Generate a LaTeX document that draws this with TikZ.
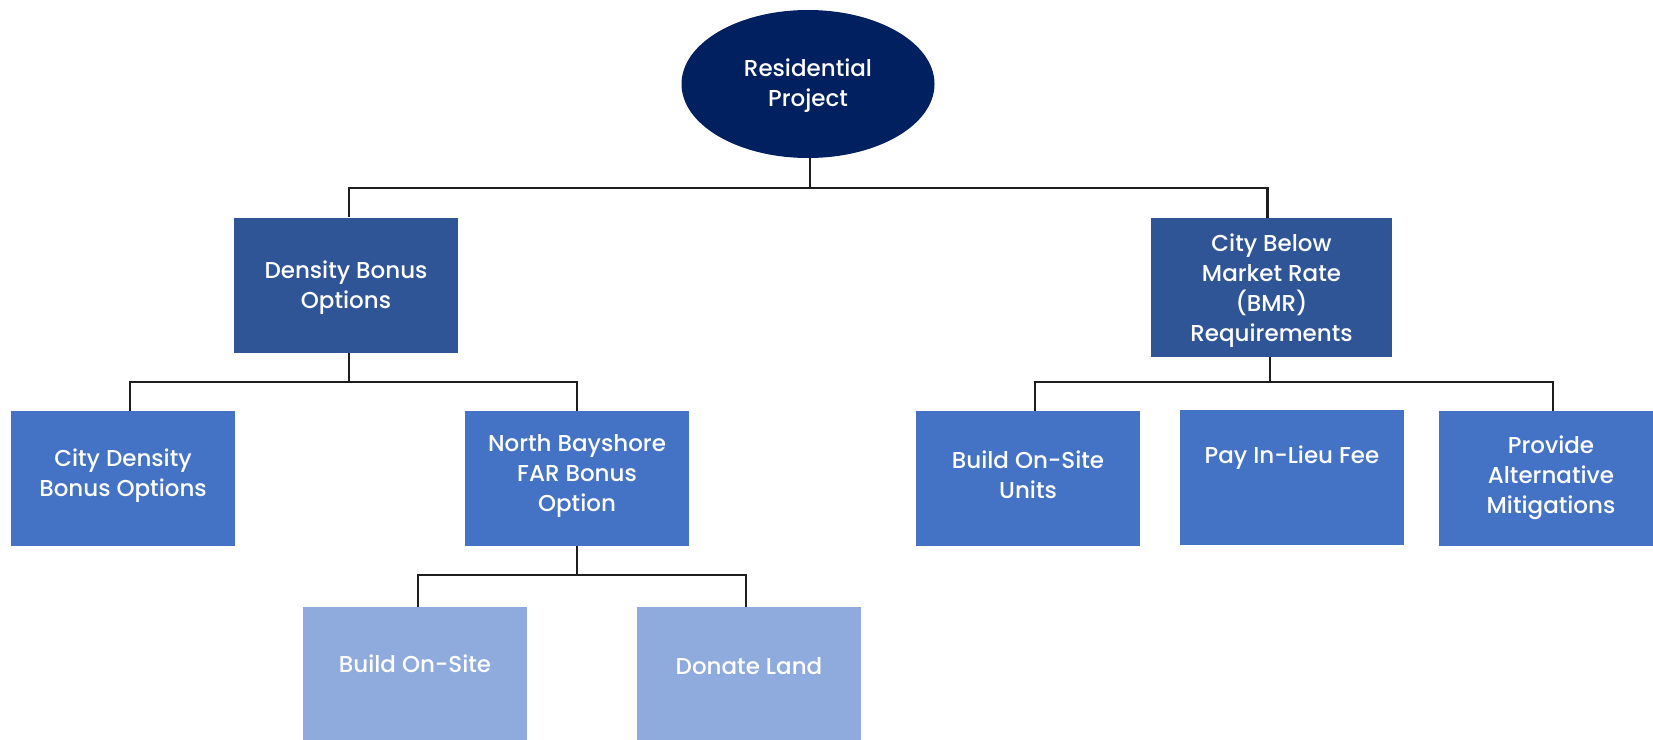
\documentclass[tikz,border=0pt]{standalone}
\usepackage{fontspec}
\setmainfont{Poppins}[UprightFont=* Medium]
\usetikzlibrary{shapes.geometric}
\definecolor{navy}{RGB}{0,32,96}
\definecolor{midblue}{RGB}{47,85,151}
\definecolor{lvlblue}{RGB}{68,114,196}
\definecolor{lightblue}{RGB}{143,170,220}
\definecolor{linec}{RGB}{30,30,30}
\begin{document}
\begin{tikzpicture}[x=1pt,y=-1pt,
  lbl/.style={text=white, font=\fontsize{23}{30}\selectfont, align=center, inner sep=0pt},
  box/.style={rectangle, minimum width=224pt, minimum height=135pt, inner sep=0pt},
  boxtwo/.style={box, fill=midblue},
  boxthree/.style={box, fill=lvlblue},
  boxfour/.style={box, fill=lightblue},
  conn/.style={draw=linec, line width=2.2pt}]
\useasboundingbox (0,0) rectangle (1653,739);
\begin{scope}
\clip (0,0) rectangle (1653,739);
\node[ellipse, fill=navy, minimum width=253pt, minimum height=148pt, inner sep=0pt,
      label={[lbl,yshift=-2pt,name=rootl]center:Residential\\Project}] (root) at (808,84) {};
\node[boxtwo, label={[lbl,yshift=-3pt,name=dbol]center:Density Bonus\\Options}] (dbo) at (346,285) {};
\node[boxtwo, minimum width=241pt, minimum height=139pt,
      label={[lbl,yshift=-3pt,name=bmrl]center:City Below\\Market Rate\\(BMR)\\Requirements}] (bmr) at (1271.5,287.5) {};
\node[boxthree, label={[lbl,yshift=3pt,name=cdbl]center:City Density\\Bonus Options}] (cdb) at (123,478.5) {};
\node[boxthree, label={[lbl,yshift=3pt,name=nbl]center:North Bayshore\\FAR Bonus\\Option}] (nb) at (577,478.5) {};
\node[boxthree, label={[lbl,yshift=4pt,name=bosul]center:Build On-Site\\Units}] (bosu) at (1028,478.5) {};
\node[boxthree, label={[lbl,yshift=20pt,name=payl]center:Pay In-Lieu Fee}] (pay) at (1292,477.5) {};
\node[boxthree, label={[lbl,yshift=1pt,name=provl]center:Provide\\Alternative\\Mitigations}] (prov) at (1551,478.5) {};
\node[boxfour, label={[lbl,yshift=11pt,name=bosl]center:Build On-Site}] (bos) at (415,674.5) {};
\node[boxfour, label={[lbl,yshift=8pt,name=donl]center:Donate Land}] (don) at (749,674.5) {};
\end{scope}
% junctions
\coordinate (j1) at (810,188);
\coordinate (j2) at (349,382);
\coordinate (j3) at (1270,382);
\coordinate (j4) at (577,575);
\draw[conn] (root.south -| j1) -- (j1);
\draw[conn] ([xshift=3pt]dbo.north) |- (j1) -| ([xshift=-4pt]bmr.north);
\draw[conn] ([xshift=3pt]dbo.south) -- (j2);
\draw[conn] ([xshift=7pt]cdb.north) |- (j2) -| (nb.north);
\draw[conn] ([xshift=-1.5pt]bmr.south) -- (j3);
\draw[conn] ([xshift=7pt]bosu.north) |- (j3) -| ([xshift=2pt]prov.north);
\draw[conn] (nb.south) -- (j4);
\draw[conn] ([xshift=3pt]bos.north) |- (j4) -| ([xshift=-3pt]don.north);
\end{tikzpicture}
\end{document}
